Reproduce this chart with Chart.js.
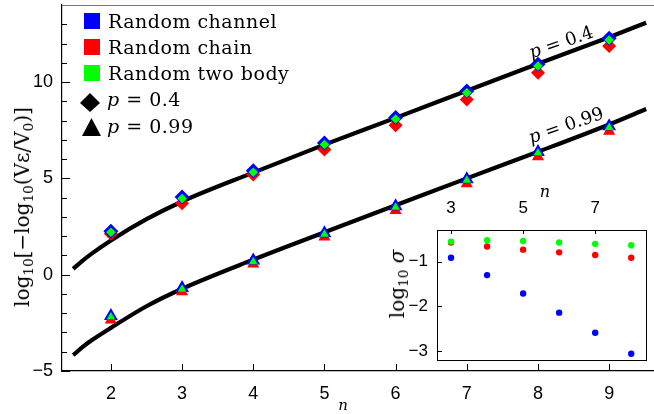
<!DOCTYPE html>
<html>
<head>
<meta charset="utf-8">
<script src="https://cdn.jsdelivr.net/npm/chart.js@4/dist/chart.umd.min.js"></script>
<style>
  body { margin: 0; background: #fff; }
  #wrap { position: relative; width: 654px; height: 414px; overflow: hidden; }
  #main { position: absolute; left: 0; top: 0; }
  #inset { position: absolute; left: 380px; top: 180px; }
  .t { position: absolute; font-family: 'DejaVu Serif', serif; font-size: 18px; color: #000; white-space: nowrap; line-height: 1; }
  .lg { font-size: 19px; letter-spacing: 0.5px; }
  .c { transform: translate(-50%, -50%); }
  .r90 { transform: translate(-50%, -50%) rotate(-90deg); }
  .r19 { transform: translate(-50%, -50%) rotate(-19deg); }
  sub { font-size: 0.68em; vertical-align: -0.3em; line-height: 0; }
</style>
</head>
<body>
<div id="wrap">
  <canvas id="main" width="654" height="414"></canvas>
  <canvas id="inset" width="274" height="200"></canvas>

  <div class="t lg" style="left:108px;top:12px">Random channel</div>
  <div class="t lg" style="left:108px;top:38px">Random chain</div>
  <div class="t lg" style="left:108px;top:64px">Random two body</div>
  <div class="t lg" style="left:107px;top:90px"><i>p</i> = 0.4</div>
  <div class="t lg" style="left:107px;top:117px"><i>p</i> = 0.99</div>

  <div class="t r19" style="left:561px;top:42px"><i>p</i> = 0.4</div>
  <div class="t r19" style="left:566px;top:125px"><i>p</i> = 0.99</div>

  <div class="t r90" style="left:22px;top:207px;font-size:20px">log<sub>10</sub>[&minus;log<sub>10</sub>(Vε/V<sub>0</sub>)]</div>
  <div class="t c" style="left:343px;top:405px;font-size:15px"><i>n</i></div>

  <div class="t c" style="left:545px;top:192px;font-size:16px"><i>n</i></div>
  <div class="t r90" style="left:397px;top:284px;font-size:20px">log<sub>10</sub> <i>σ</i></div>
</div>

<script>
// main panel: log10[-log10(V/V0)] vs n
const nVals = [2, 3, 4, 5, 6, 7, 8, 9];
const channel04 = [2.26, 4.03, 5.40, 6.84, 8.16, 9.53, 10.92, 12.28];
const chain04 = [2.12, 3.71, 5.20, 6.50, 7.76, 9.10, 10.48, 11.87];
const twoBody04 = [2.20, 3.95, 5.32, 6.76, 8.08, 9.44, 10.83, 12.18];
const channel099 = [-2.14, -0.69, 0.73, 2.15, 3.55, 4.95, 6.37, 7.70];
const chain099 = [-2.35, -0.88, 0.55, 1.95, 3.33, 4.72, 6.12, 7.45];
const twoBody099 = [-2.20, -0.75, 0.67, 2.10, 3.50, 4.90, 6.32, 7.64];

// fitted curves
const fitN = [1.47, 1.6, 1.74, 2, 2.5, 3, 4, 5, 6, 7, 8, 9, 9.52];
const fit04 = [0.30, 0.72, 1.12, 1.78, 2.88, 3.80, 5.30, 6.75, 8.14, 9.55, 10.95, 12.33, 13.08];
const fit099 = [-4.18, -3.76, -3.38, -2.76, -1.64, -0.73, 0.78, 2.20, 3.60, 5.00, 6.38, 7.80, 8.60];

const xTicks = [2, 3, 4, 5, 6, 7, 8, 9];
const yTicks = [-5, 0, 5, 10];
const yMinor = [-5, -4, -3, -2, -1, 0, 1, 2, 3, 4, 5, 6, 7, 8, 9, 10, 11, 12, 13];

// inset: log10 sigma vs n
const insetN = [3, 4, 5, 6, 7, 8];
const sigmaChannel = [-0.91, -1.30, -1.71, -2.14, -2.59, -3.06];
const sigmaChain = [-0.57, -0.66, -0.73, -0.79, -0.85, -0.91];
const sigmaTwoBody = [-0.55, -0.52, -0.535, -0.57, -0.60, -0.63];
const insetXTicks = [3, 5, 7];
const insetYTicks = [-1, -2, -3];

const BLUE = '#0000ff', RED = '#ff0000', GREEN = '#00ff00';

Chart.defaults.font.family = "'Liberation Sans', Arial, sans-serif";
Chart.defaults.color = '#000';

const pts = (xs, ys) => xs.map((x, i) => ({ x: x, y: ys[i] }));
const minus = v => (v < 0 ? '\u2212' + Math.abs(v) : '' + v);

// fixed axis sizes, no label overhang padding
function fixSize(prop, px) {
    return s => {
        s[prop] = px;
        s.paddingTop = 0; s.paddingBottom = 0;
        s.paddingLeft = 0; s.paddingRight = 0;
    };
}

function markers(data, style, r, color, order) {
    return {
        data: data,
        pointStyle: style,
        pointRadius: r,
        pointBackgroundColor: color,
        pointBorderWidth: 0,
        showLine: false,
        order: order
    };
}

function fitLine(data) {
    return {
        data: data,
        showLine: true,
        borderColor: '#000',
        borderWidth: 4.2,
        pointRadius: 0,
        cubicInterpolationMode: 'monotone',
        order: 10
    };
}

const mainFrame = {
    id: 'mainFrame',
    afterDraw(chart) {
        const { ctx, chartArea: a, scales: { x, y } } = chart;
        ctx.save();
        ctx.strokeStyle = '#000';
        ctx.lineWidth = 1;
        ctx.beginPath();
        yMinor.forEach(v => {
            const py = Math.round(y.getPixelForValue(v)) + 0.5;
            const len = v % 5 === 0 ? 8 : 5;
            ctx.moveTo(a.left, py);
            ctx.lineTo(a.left + len, py);
        });
        xTicks.forEach(v => {
            const px = Math.round(x.getPixelForValue(v)) + 0.5;
            ctx.moveTo(px, a.bottom);
            ctx.lineTo(px, a.bottom - 7);
        });
        ctx.stroke();

        ctx.strokeStyle = '#777';
        ctx.beginPath();
        ctx.moveTo(a.left, a.top + 0.5);
        ctx.lineTo(a.right, a.top + 0.5);
        ctx.stroke();

        // legend symbols
        [[BLUE, 13], [RED, 39], [GREEN, 65]].forEach(([c, top]) => {
            ctx.fillStyle = c;
            ctx.fillRect(84, top, 16, 16);
        });
        ctx.fillStyle = '#000';
        ctx.beginPath();
        ctx.moveTo(90, 93); ctx.lineTo(100, 103); ctx.lineTo(90, 112); ctx.lineTo(80, 103);
        ctx.closePath();
        ctx.fill();
        ctx.beginPath();
        ctx.moveTo(91.5, 118); ctx.lineTo(101, 136); ctx.lineTo(82, 136);
        ctx.closePath();
        ctx.fill();
        ctx.restore();
    }
};

new Chart(document.getElementById('main'), {
    type: 'scatter',
    data: {
        datasets: [
            fitLine(pts(fitN, fit04)),
            fitLine(pts(fitN, fit099)),
            markers(pts(nVals, chain04), 'rectRot', 7, RED, 6),
            markers(pts(nVals, channel04), 'rectRot', 7.5, BLUE, 5),
            markers(pts(nVals, twoBody04), 'rectRot', 4.8, GREEN, 4),
            markers(pts(nVals, chain099), 'triangle', 7, RED, 3),
            markers(pts(nVals, channel099), 'triangle', 8, BLUE, 2),
            markers(pts(nVals, twoBody099), 'triangle', 5, GREEN, 1)
        ]
    },
    options: {
        responsive: false,
        animation: false,
        layout: { autoPadding: false, padding: { top: 5, right: 0, left: 0, bottom: 0 } },
        plugins: { legend: { display: false }, tooltip: { enabled: false } },
        scales: {
            x: {
                type: 'linear',
                min: 1.313,
                max: 9.63,
                grid: { display: false, drawTicks: false },
                border: { display: true, color: '#000', width: 1.2 },
                afterBuildTicks: s => { s.ticks = xTicks.map(v => ({ value: v })); },
                afterFit: fixSize('height', 43),
                ticks: { font: { size: 18 }, padding: 12, callback: minus, maxRotation: 0 }
            },
            y: {
                type: 'linear',
                min: -5,
                max: 14,
                grid: { display: false, drawTicks: false },
                border: { display: true, color: '#000', width: 1.2 },
                afterBuildTicks: s => { s.ticks = yTicks.map(v => ({ value: v })); },
                afterFit: fixSize('width', 62),
                ticks: { font: { size: 18 }, padding: 9, callback: minus }
            }
        }
    },
    plugins: [mainFrame]
});

const insetFrame = {
    id: 'insetFrame',
    beforeDatasetsDraw(chart) {
        const { ctx, chartArea: a, scales: { x, y } } = chart;
        ctx.save();
        ctx.fillStyle = '#fff';
        ctx.fillRect(a.left, a.top, a.right - a.left, a.bottom - a.top);
        ctx.strokeStyle = '#000';
        ctx.lineWidth = 1;
        ctx.strokeRect(Math.round(a.left) + 0.5, Math.round(a.top) + 0.5,
            Math.round(a.right - a.left), Math.round(a.bottom - a.top));
        ctx.beginPath();
        insetXTicks.forEach(v => {
            const px = Math.round(x.getPixelForValue(v)) + 0.5;
            ctx.moveTo(px, a.top);
            ctx.lineTo(px, a.top + 4);
        });
        insetYTicks.forEach(v => {
            const py = Math.round(y.getPixelForValue(v)) + 0.5;
            ctx.moveTo(a.left, py);
            ctx.lineTo(a.left + 5, py);
        });
        ctx.stroke();
        ctx.restore();
    }
};

new Chart(document.getElementById('inset'), {
    type: 'scatter',
    data: {
        datasets: [
            markers(pts(insetN, sigmaChannel), 'circle', 3.2, BLUE, 3),
            markers(pts(insetN, sigmaChain), 'circle', 3.2, RED, 2),
            markers(pts(insetN, sigmaTwoBody), 'circle', 3.2, GREEN, 1)
        ]
    },
    options: {
        responsive: false,
        animation: false,
        layout: { autoPadding: false, padding: { top: 0, right: 8, left: 0, bottom: 20 } },
        plugins: { legend: { display: false }, tooltip: { enabled: false } },
        scales: {
            x: {
                type: 'linear',
                position: 'top',
                min: 2.61,
                max: 8.41,
                grid: { display: false, drawTicks: false },
                border: { display: false },
                afterBuildTicks: s => { s.ticks = insetXTicks.map(v => ({ value: v })); },
                afterFit: fixSize('height', 50),
                ticks: { font: { size: 17 }, padding: 11, callback: minus, maxRotation: 0 }
            },
            y: {
                type: 'linear',
                min: -3.2,
                max: -0.29,
                grid: { display: false, drawTicks: false },
                border: { display: false },
                afterBuildTicks: s => { s.ticks = insetYTicks.map(v => ({ value: v })); },
                afterFit: fixSize('width', 57),
                ticks: { font: { size: 17 }, padding: 9, callback: minus }
            }
        }
    },
    plugins: [insetFrame]
});
</script>
</body>
</html>
